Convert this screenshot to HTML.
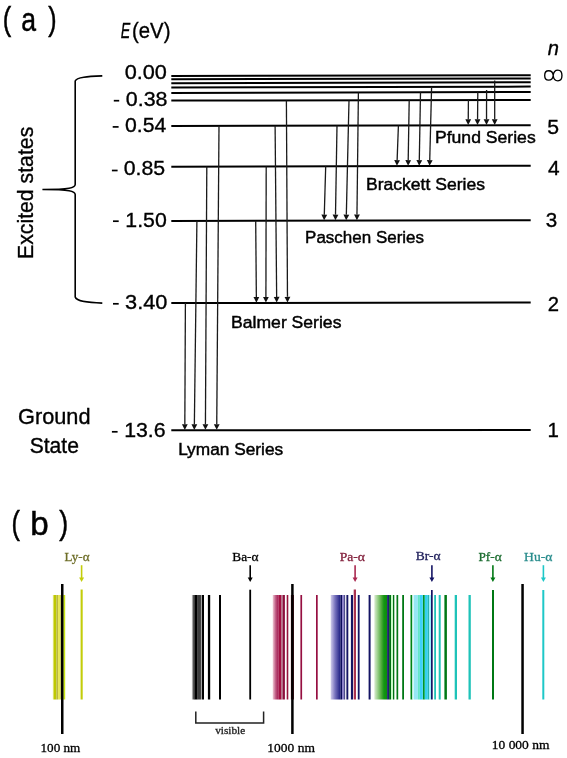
<!DOCTYPE html>
<html><head><meta charset="utf-8"><style>
html,body{margin:0;padding:0;background:#fff;width:567px;height:758px;overflow:hidden}
svg{display:block;will-change:transform}
</style></head><body>
<svg width="567" height="758" viewBox="0 0 567 758">
<line x1="171.3" y1="76.0" x2="530.7" y2="75.2" stroke="#000" stroke-width="2"/>
<line x1="171.3" y1="79.2" x2="530.7" y2="78.4" stroke="#000" stroke-width="2"/>
<line x1="171.3" y1="83.2" x2="530.7" y2="82.2" stroke="#000" stroke-width="2"/>
<line x1="171.3" y1="87.6" x2="530.7" y2="86.6" stroke="#000" stroke-width="2"/>
<line x1="171.3" y1="92.9" x2="530.7" y2="92.0" stroke="#000" stroke-width="2"/>
<line x1="171.3" y1="100.6" x2="530.7" y2="99.9" stroke="#000" stroke-width="2"/>
<line x1="171.3" y1="125.9" x2="530.7" y2="125.2" stroke="#000" stroke-width="2"/>
<line x1="171.3" y1="166.7" x2="530.7" y2="165.8" stroke="#000" stroke-width="2"/>
<line x1="171.3" y1="220.9" x2="530.7" y2="220.3" stroke="#000" stroke-width="2"/>
<line x1="171.3" y1="303.1" x2="530.7" y2="302.4" stroke="#000" stroke-width="2"/>
<line x1="171.3" y1="430.2" x2="530.7" y2="429.9" stroke="#000" stroke-width="2"/>
<line x1="185.4" y1="303.07" x2="184.83" y2="424.19" stroke="#1a1a1a" stroke-width="1.3"/>
<polygon points="184.80,429.89 181.93,424.18 187.73,424.20" fill="#111"/>
<line x1="196.9" y1="220.86" x2="194.37" y2="424.18" stroke="#1a1a1a" stroke-width="1.3"/>
<polygon points="194.30,429.88 191.47,424.15 197.27,424.22" fill="#111"/>
<line x1="206.8" y1="166.61" x2="205.43" y2="424.17" stroke="#1a1a1a" stroke-width="1.3"/>
<polygon points="205.40,429.87 202.53,424.16 208.33,424.19" fill="#111"/>
<line x1="219.0" y1="125.81" x2="216.75" y2="424.16" stroke="#1a1a1a" stroke-width="1.3"/>
<polygon points="216.70,429.86 213.85,424.14 219.65,424.18" fill="#111"/>
<line x1="255.7" y1="220.76" x2="256.35" y2="296.93" stroke="#1a1a1a" stroke-width="1.3"/>
<polygon points="256.40,302.63 253.45,296.96 259.25,296.91" fill="#111"/>
<line x1="266.2" y1="166.46" x2="265.91" y2="296.92" stroke="#1a1a1a" stroke-width="1.3"/>
<polygon points="265.90,302.62 263.01,296.91 268.81,296.92" fill="#111"/>
<line x1="275.1" y1="125.70" x2="276.65" y2="296.89" stroke="#1a1a1a" stroke-width="1.3"/>
<polygon points="276.70,302.59 273.75,296.92 279.55,296.87" fill="#111"/>
<line x1="286.4" y1="100.38" x2="287.47" y2="296.87" stroke="#1a1a1a" stroke-width="1.3"/>
<polygon points="287.50,302.57 284.57,296.89 290.37,296.86" fill="#111"/>
<line x1="325.7" y1="166.31" x2="324.28" y2="214.65" stroke="#1a1a1a" stroke-width="1.3"/>
<polygon points="324.10,220.34 321.38,214.56 327.18,214.73" fill="#111"/>
<line x1="337.0" y1="125.58" x2="335.50" y2="214.63" stroke="#1a1a1a" stroke-width="1.3"/>
<polygon points="335.40,220.33 332.60,214.58 338.40,214.68" fill="#111"/>
<line x1="349.0" y1="100.25" x2="346.34" y2="214.61" stroke="#1a1a1a" stroke-width="1.3"/>
<polygon points="346.20,220.31 343.44,214.54 349.24,214.68" fill="#111"/>
<line x1="358.4" y1="92.43" x2="356.97" y2="214.59" stroke="#1a1a1a" stroke-width="1.3"/>
<polygon points="356.90,220.29 354.07,214.56 359.87,214.62" fill="#111"/>
<line x1="398.4" y1="125.46" x2="397.12" y2="160.14" stroke="#1a1a1a" stroke-width="1.3"/>
<polygon points="396.90,165.84 394.22,160.03 400.02,160.25" fill="#111"/>
<line x1="409.2" y1="100.14" x2="408.20" y2="160.11" stroke="#1a1a1a" stroke-width="1.3"/>
<polygon points="408.10,165.81 405.30,160.06 411.10,160.16" fill="#111"/>
<line x1="420.5" y1="92.28" x2="419.31" y2="160.08" stroke="#1a1a1a" stroke-width="1.3"/>
<polygon points="419.20,165.78 416.41,160.03 422.21,160.13" fill="#111"/>
<line x1="431.6" y1="86.88" x2="429.75" y2="160.06" stroke="#1a1a1a" stroke-width="1.3"/>
<polygon points="429.60,165.75 426.85,159.98 432.65,160.13" fill="#111"/>
<line x1="468.4" y1="100.02" x2="468.25" y2="119.32" stroke="#1a1a1a" stroke-width="1.3"/>
<polygon points="468.20,125.02 465.35,119.30 471.15,119.34" fill="#111"/>
<line x1="477.8" y1="92.13" x2="477.55" y2="119.30" stroke="#1a1a1a" stroke-width="1.3"/>
<polygon points="477.50,125.00 474.65,119.28 480.45,119.33" fill="#111"/>
<line x1="486.6" y1="89.90" x2="486.52" y2="119.29" stroke="#1a1a1a" stroke-width="1.3"/>
<polygon points="486.50,124.99 483.62,119.28 489.42,119.29" fill="#111"/>
<line x1="494.7" y1="80.60" x2="494.70" y2="119.27" stroke="#1a1a1a" stroke-width="1.3"/>
<polygon points="494.70,124.97 491.80,119.27 497.60,119.27" fill="#111"/>
<path d="M553.2,75.45 C552.9,72.4 551.2,70.75 548.6,70.75 C546.1,70.75 544.7,72.9 544.7,75.45 C544.7,78.1 546.1,80.1 548.6,80.1 C551.2,80.1 552.9,78.4 553.2,75.45 C553.5,72.5 555.2,70.15 557.9,70.15 C560.6,70.15 561.95,72.8 561.95,75.5 C561.95,78.4 560.6,80.8 557.9,80.8 C555.2,80.8 553.5,78.4 553.2,75.45 Z" fill="none" stroke="#000" stroke-width="1.35"/>
<path d="M102.3,75.9 C88,76.5 76.5,77 75.2,81 L75.2,184.5 C75,188 70,189.5 42.4,189.5 C70,189.5 75,191 75.2,194.5 L75.2,297 C76.5,301.5 88,302.6 102.3,303.1" fill="none" stroke="#000" stroke-width="1.6"/>
<defs><linearGradient id="gK" x1="0" x2="1"><stop offset="0" stop-color="#e6e6e6"/><stop offset="1" stop-color="#000"/></linearGradient><linearGradient id="gM" x1="0" x2="1"><stop offset="0" stop-color="#f0c8d4"/><stop offset="0.5" stop-color="#be5a82"/><stop offset="1" stop-color="#a0144b"/></linearGradient><linearGradient id="gB" x1="0" x2="1"><stop offset="0" stop-color="#d2cdeb"/><stop offset="0.45" stop-color="#7873be"/><stop offset="1" stop-color="#1e1e82"/></linearGradient><linearGradient id="gG" x1="0" x2="1"><stop offset="0" stop-color="#dcebd2"/><stop offset="0.2" stop-color="#aad79b"/><stop offset="0.55" stop-color="#50aa3c"/><stop offset="0.75" stop-color="#149614"/><stop offset="1" stop-color="#0a8c0a"/></linearGradient></defs>
<rect x="52.8" y="595.0" width="0.70" height="104.50" fill="#f0f0a0"/>
<rect x="53.5" y="595.0" width="2.80" height="104.50" fill="#bec800"/>
<rect x="56.3" y="595.0" width="1.80" height="104.50" fill="#b9b93c"/>
<rect x="58.1" y="595.0" width="1.80" height="104.50" fill="#e6e646"/>
<rect x="59.9" y="595.0" width="1.40" height="104.50" fill="#c8c864"/>
<rect x="63.3" y="595.0" width="1.90" height="104.50" fill="#c8e614"/>
<rect x="80.6" y="589.5" width="2.10" height="110.00" fill="#c3cd0a"/>
<rect x="191.75" y="595.0" width="2.75" height="104.50" fill="url(#gK)"/>
<rect x="194.5" y="595.0" width="3.20" height="104.50" fill="#000"/>
<rect x="197.7" y="595.0" width="2.50" height="104.50" fill="#3c3c3c"/>
<rect x="200.2" y="595.0" width="0.90" height="104.50" fill="#1e1e1e"/>
<rect x="201.7" y="595.0" width="2.30" height="104.50" fill="#000"/>
<rect x="207.9" y="595.0" width="2.30" height="104.50" fill="#000"/>
<rect x="219" y="595.0" width="2.00" height="104.50" fill="#000"/>
<rect x="249.3" y="589.7" width="1.80" height="109.80" fill="#000"/>
<rect x="272.75" y="595.0" width="5.95" height="104.50" fill="url(#gM)"/>
<rect x="278.7" y="595.0" width="2.80" height="104.50" fill="#a50f41"/>
<rect x="281.5" y="595.0" width="1.30" height="104.50" fill="#aa6e82"/>
<rect x="282.8" y="595.0" width="2.10" height="104.50" fill="#8c0f3c"/>
<rect x="286.7" y="595.0" width="1.60" height="104.50" fill="#96143c"/>
<rect x="290.9" y="595.0" width="3.00" height="104.50" fill="#640014"/>
<rect x="300.4" y="595.0" width="1.70" height="104.50" fill="#960f41"/>
<rect x="316.0" y="595.0" width="1.70" height="104.50" fill="#960f41"/>
<rect x="330.7" y="595.0" width="9.70" height="104.50" fill="url(#gB)"/>
<rect x="340.4" y="595.0" width="1.60" height="104.50" fill="#0a0a5a"/>
<rect x="342" y="595.0" width="2.30" height="104.50" fill="#8c82c8"/>
<rect x="344.3" y="595.0" width="0.80" height="104.50" fill="#141460"/>
<rect x="346.4" y="595.0" width="1.90" height="104.50" fill="#141464"/>
<rect x="350.9" y="595.0" width="2.10" height="104.50" fill="#141464"/>
<rect x="353.7" y="589.5" width="2.30" height="110.00" fill="#aa3250"/>
<rect x="357.8" y="595.0" width="1.80" height="104.50" fill="#141464"/>
<rect x="368.6" y="595.0" width="2.00" height="104.50" fill="#141464"/>
<rect x="431" y="590" width="1.70" height="109.50" fill="#141464"/>
<rect x="374.3" y="595.0" width="12.80" height="104.50" fill="url(#gG)"/>
<rect x="387.1" y="595.0" width="2.00" height="104.50" fill="#1e1e6e"/>
<rect x="389.1" y="595.0" width="1.90" height="104.50" fill="#006e14"/>
<rect x="391" y="595.0" width="2.00" height="104.50" fill="#c8fac8"/>
<rect x="393" y="595.0" width="1.30" height="104.50" fill="#006e14"/>
<rect x="396.5" y="595.0" width="1.70" height="104.50" fill="#007814"/>
<rect x="402.2" y="595.0" width="1.80" height="104.50" fill="#007814"/>
<rect x="410.5" y="595.0" width="1.90" height="104.50" fill="#008214"/>
<rect x="422.8" y="595.0" width="2.00" height="104.50" fill="#009628"/>
<rect x="444.4" y="595.0" width="2.50" height="104.50" fill="#007814"/>
<rect x="492" y="590" width="2.00" height="109.50" fill="#007814"/>
<rect x="412.4" y="595.0" width="1.50" height="104.50" fill="#d2fafa"/>
<rect x="413.9" y="595.0" width="4.00" height="104.50" fill="#96e6f5"/>
<rect x="417.9" y="595.0" width="2.00" height="104.50" fill="#64e6c8"/>
<rect x="419.9" y="595.0" width="2.90" height="104.50" fill="#3cd2fa"/>
<rect x="424.8" y="595.0" width="3.00" height="104.50" fill="#32d2f0"/>
<rect x="427.8" y="595.0" width="1.40" height="104.50" fill="#28b4b4"/>
<rect x="429.2" y="595.0" width="1.80" height="104.50" fill="#96f0fa"/>
<rect x="434.2" y="595.0" width="1.80" height="104.50" fill="#1ec3b9"/>
<rect x="438.7" y="595.0" width="2.00" height="104.50" fill="#1ec3b9"/>
<rect x="454.7" y="595.0" width="2.30" height="104.50" fill="#1ec3b9"/>
<rect x="468.5" y="595.0" width="2.30" height="104.50" fill="#1ec3b9"/>
<rect x="542.3" y="590" width="2.00" height="109.50" fill="#1ec8c8"/>
<rect x="61.0" y="584" width="2.50" height="150.00" fill="#000"/>
<rect x="291.15" y="584" width="2.50" height="150.00" fill="#000"/>
<rect x="521.3" y="584" width="2.50" height="150.00" fill="#000"/>
<path d="M195.8,711.4 V722.9 H263.6 V711.4" fill="none" stroke="#222" stroke-width="1.5"/>
<line x1="81.6" y1="565.2" x2="81.6" y2="578" stroke="#c3cd0a" stroke-width="1.6"/>
<polygon points="79.1,577.4 84.1,577.4 81.6,582" fill="#c3cd0a"/>
<line x1="250.2" y1="565.2" x2="250.2" y2="578" stroke="#000" stroke-width="1.6"/>
<polygon points="247.7,577.4 252.7,577.4 250.2,582" fill="#000"/>
<line x1="355.1" y1="565.2" x2="355.1" y2="578" stroke="#aa2850" stroke-width="1.6"/>
<polygon points="352.6,577.4 357.6,577.4 355.1,582" fill="#aa2850"/>
<line x1="431.9" y1="565.2" x2="431.9" y2="578" stroke="#141464" stroke-width="1.6"/>
<polygon points="429.4,577.4 434.4,577.4 431.9,582" fill="#141464"/>
<line x1="492.9" y1="565.2" x2="492.9" y2="578" stroke="#007814" stroke-width="1.6"/>
<polygon points="490.4,577.4 495.4,577.4 492.9,582" fill="#007814"/>
<line x1="543.4" y1="565.2" x2="543.4" y2="578" stroke="#1ec8c8" stroke-width="1.6"/>
<polygon points="540.9,577.4 545.9,577.4 543.4,582" fill="#1ec8c8"/>
<text id="ap1" x="2.74" y="29.54" font-family="'Liberation Sans', sans-serif" font-size="33.00" textLength="8.44" lengthAdjust="spacingAndGlyphs" fill="#000"  stroke="#000" stroke-width="0.5">(</text>
<text id="aa" x="21.29" y="31.09" font-family="'Liberation Sans', sans-serif" font-size="33.00" textLength="14.79" lengthAdjust="spacingAndGlyphs" fill="#000"  stroke="#000" stroke-width="0.5">a</text>
<text id="ap2" x="48.18" y="29.54" font-family="'Liberation Sans', sans-serif" font-size="33.00" textLength="8.35" lengthAdjust="spacingAndGlyphs" fill="#000"  stroke="#000" stroke-width="0.5">)</text>
<text id="bp1" x="11.54" y="534.07" font-family="'Liberation Sans', sans-serif" font-size="33.00" textLength="8.40" lengthAdjust="spacingAndGlyphs" fill="#000"  stroke="#000" stroke-width="0.5">(</text>
<text id="bb" x="30.28" y="534.94" font-family="'Liberation Sans', sans-serif" font-size="33.00" textLength="18.43" lengthAdjust="spacingAndGlyphs" fill="#000"  stroke="#000" stroke-width="0.5">b</text>
<text id="bp2" x="59.28" y="534.04" font-family="'Liberation Sans', sans-serif" font-size="33.00" textLength="8.95" lengthAdjust="spacingAndGlyphs" fill="#000"  stroke="#000" stroke-width="0.5">)</text>
<text id="EE" x="120.80" y="38.45" font-family="'Liberation Sans', sans-serif" font-size="21.60" textLength="9.49" lengthAdjust="spacingAndGlyphs" fill="#000"  stroke="#000" stroke-width="0.35"><tspan font-style="italic">E</tspan></text>
<text id="eV" x="132.02" y="38.35" font-family="'Liberation Sans', sans-serif" font-size="21.60" textLength="38.41" lengthAdjust="spacingAndGlyphs" fill="#000"  stroke="#000" stroke-width="0.35">(eV)</text>
<text id="n000" x="124.65" y="78.82" font-family="'Liberation Sans', sans-serif" font-size="21.10" textLength="42.27" lengthAdjust="spacingAndGlyphs" fill="#000"  stroke="#000" stroke-width="0.35">0.00</text>
<text id="n038" x="125.83" y="105.65" font-family="'Liberation Sans', sans-serif" font-size="21.10" textLength="41.71" lengthAdjust="spacingAndGlyphs" fill="#000"  stroke="#000" stroke-width="0.35">0.38</text>
<text id="n054" x="125.04" y="132.05" font-family="'Liberation Sans', sans-serif" font-size="21.10" textLength="41.32" lengthAdjust="spacingAndGlyphs" fill="#000"  stroke="#000" stroke-width="0.35">0.54</text>
<text id="n085" x="123.70" y="175.45" font-family="'Liberation Sans', sans-serif" font-size="21.10" textLength="41.47" lengthAdjust="spacingAndGlyphs" fill="#000"  stroke="#000" stroke-width="0.35">0.85</text>
<text id="n150" x="125.30" y="227.20" font-family="'Liberation Sans', sans-serif" font-size="21.10" textLength="41.45" lengthAdjust="spacingAndGlyphs" fill="#000"  stroke="#000" stroke-width="0.35">1.50</text>
<text id="n340" x="125.03" y="309.45" font-family="'Liberation Sans', sans-serif" font-size="21.10" textLength="42.39" lengthAdjust="spacingAndGlyphs" fill="#000"  stroke="#000" stroke-width="0.35">3.40</text>
<text id="n136" x="124.15" y="436.60" font-family="'Liberation Sans', sans-serif" font-size="21.10" textLength="41.51" lengthAdjust="spacingAndGlyphs" fill="#000"  stroke="#000" stroke-width="0.35">13.6</text>
<text id="exc" transform="translate(33.05,258.98) rotate(-90)" x="0" y="0" font-family="'Liberation Sans', sans-serif" font-size="22.36" textLength="132.24" lengthAdjust="spacingAndGlyphs" fill="#000" stroke="#000" stroke-width="0.35">Excited states</text>
<text id="ground" x="18.05" y="423.60" font-family="'Liberation Sans', sans-serif" font-size="21.20" textLength="72.47" lengthAdjust="spacingAndGlyphs" fill="#000"  stroke="#000" stroke-width="0.35">Ground</text>
<text id="state" x="29.69" y="452.85" font-family="'Liberation Sans', sans-serif" font-size="21.20" textLength="49.19" lengthAdjust="spacingAndGlyphs" fill="#000"  stroke="#000" stroke-width="0.35">State</text>
<text id="nn" x="547.79" y="54.90" font-family="'Liberation Sans', sans-serif" font-size="21.10" textLength="11.20" lengthAdjust="spacingAndGlyphs" fill="#000"  stroke="#000" stroke-width="0.35"><tspan font-style="italic">n</tspan></text>
<text id="l5" x="547.27" y="133.54" font-family="'Liberation Sans', sans-serif" font-size="21.10" textLength="11.80" lengthAdjust="spacingAndGlyphs" fill="#000"  stroke="#000" stroke-width="0.35">5</text>
<text id="l4" x="547.91" y="175.23" font-family="'Liberation Sans', sans-serif" font-size="21.10" textLength="11.61" lengthAdjust="spacingAndGlyphs" fill="#000"  stroke="#000" stroke-width="0.35">4</text>
<text id="l3" x="545.83" y="226.68" font-family="'Liberation Sans', sans-serif" font-size="21.10" textLength="11.47" lengthAdjust="spacingAndGlyphs" fill="#000"  stroke="#000" stroke-width="0.35">3</text>
<text id="l2" x="547.78" y="310.99" font-family="'Liberation Sans', sans-serif" font-size="21.10" textLength="11.27" lengthAdjust="spacingAndGlyphs" fill="#000"  stroke="#000" stroke-width="0.35">2</text>
<text id="l1" x="547.58" y="436.90" font-family="'Liberation Sans', sans-serif" font-size="21.10" textLength="11.38" lengthAdjust="spacingAndGlyphs" fill="#000"  stroke="#000" stroke-width="0.35">1</text>
<text id="pfund" x="434.98" y="143.15" font-family="'Liberation Sans', sans-serif" font-size="17.10" textLength="100.71" lengthAdjust="spacingAndGlyphs" fill="#000"  stroke="#000" stroke-width="0.45">Pfund Series</text>
<text id="brack" x="365.98" y="190.05" font-family="'Liberation Sans', sans-serif" font-size="17.10" textLength="118.96" lengthAdjust="spacingAndGlyphs" fill="#000"  stroke="#000" stroke-width="0.45">Brackett Series</text>
<text id="pasch" x="305.10" y="243.05" font-family="'Liberation Sans', sans-serif" font-size="17.10" textLength="118.94" lengthAdjust="spacingAndGlyphs" fill="#000"  stroke="#000" stroke-width="0.45">Paschen Series</text>
<text id="balm" x="231.08" y="328.20" font-family="'Liberation Sans', sans-serif" font-size="17.10" textLength="110.35" lengthAdjust="spacingAndGlyphs" fill="#000"  stroke="#000" stroke-width="0.45">Balmer Series</text>
<text id="lyman" x="178.15" y="455.36" font-family="'Liberation Sans', sans-serif" font-size="17.10" textLength="105.09" lengthAdjust="spacingAndGlyphs" fill="#000"  stroke="#000" stroke-width="0.45">Lyman Series</text>
<text id="lya" x="64.57" y="561.02" font-family="'Liberation Serif', serif" font-size="13.00" textLength="24.93" lengthAdjust="spacingAndGlyphs" fill="#6e6e28" stroke="#6e6e28" stroke-width="0.3">Ly-α</text>
<text id="baa" x="232.28" y="560.59" font-family="'Liberation Serif', serif" font-size="13.00" textLength="26.33" lengthAdjust="spacingAndGlyphs" fill="#000" stroke="#000" stroke-width="0.3">Ba-α</text>
<text id="paa" x="339.71" y="561.38" font-family="'Liberation Serif', serif" font-size="13.00" textLength="25.28" lengthAdjust="spacingAndGlyphs" fill="#82203c" stroke="#82203c" stroke-width="0.3">Pa-α</text>
<text id="bra" x="415.86" y="560.47" font-family="'Liberation Serif', serif" font-size="13.00" textLength="24.75" lengthAdjust="spacingAndGlyphs" fill="#1e1e5a" stroke="#1e1e5a" stroke-width="0.3">Br-α</text>
<text id="pfa" x="478.41" y="561.24" font-family="'Liberation Serif', serif" font-size="13.00" textLength="23.29" lengthAdjust="spacingAndGlyphs" fill="#1e6e32" stroke="#1e6e32" stroke-width="0.3">Pf-α</text>
<text id="hua" x="524.05" y="560.56" font-family="'Liberation Serif', serif" font-size="13.00" textLength="28.36" lengthAdjust="spacingAndGlyphs" fill="#288c8c" stroke="#288c8c" stroke-width="0.3">Hu-α</text>
<text id="nm100" x="40.49" y="752.11" font-family="'Liberation Serif', serif" font-size="13.40" textLength="39.82" lengthAdjust="spacingAndGlyphs" fill="#000" stroke="#000" stroke-width="0.3">100 nm</text>
<text id="nm1000" x="267.39" y="751.81" font-family="'Liberation Serif', serif" font-size="13.40" textLength="47.52" lengthAdjust="spacingAndGlyphs" fill="#000" stroke="#000" stroke-width="0.3">1000 nm</text>
<text id="nm10k" x="491.80" y="749.29" font-family="'Liberation Serif', serif" font-size="12.80" textLength="57.63" lengthAdjust="spacingAndGlyphs" fill="#000" stroke="#000" stroke-width="0.3">10 000 nm</text>
<text id="vis" x="215.17" y="733.78" font-family="'Liberation Serif', serif" font-size="10.20" textLength="30.03" lengthAdjust="spacingAndGlyphs" fill="#222" stroke="#222" stroke-width="0.3">visible</text>
<rect x="113.8" y="99.85" width="5.40" height="1.7" fill="#000"/>
<rect x="112.7" y="126.05" width="5.90" height="1.7" fill="#000"/>
<rect x="111.9" y="169.65" width="5.70" height="1.7" fill="#000"/>
<rect x="113.0" y="220.35" width="5.70" height="1.7" fill="#000"/>
<rect x="113.0" y="302.95" width="5.70" height="1.7" fill="#000"/>
<rect x="111.9" y="430.95" width="5.70" height="1.7" fill="#000"/>
</svg>
</body></html>
